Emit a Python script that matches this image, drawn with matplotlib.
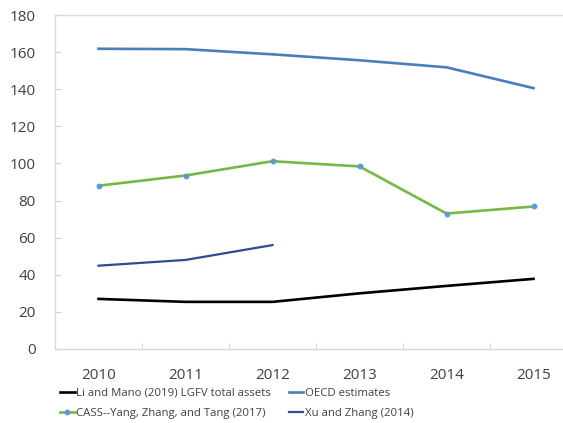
import matplotlib
matplotlib.use("Agg")
import matplotlib.pyplot as plt
import numpy as np

plt.rcParams['font.family'] = ['Open Sans', 'DejaVu Sans']

years = ["2010", "2011", "2012", "2013", "2014", "2015"]
li_mano = [27.0, 25.4, 25.4, 30.0, 34.0, 37.8]
oecd = [161.8, 161.6, 158.8, 155.6, 151.8, 140.6]
cass = [88.0, 93.5, 101.2, 98.4, 73.0, 76.8]
xu_zhang = [44.9, 48.0, 56.0]

txt = "#404040"

fig = plt.figure(figsize=(5.63, 4.23), dpi=100)
ax = fig.add_axes([55 / 563, 1 - 349 / 423, 522 / 563, 334 / 423])

x = np.arange(len(years))
l1, = ax.plot(x, li_mano, color="black", lw=1.9, label="Li and Mano (2019) LGFV total assets")
l2, = ax.plot(x, oecd, color="#4a7ebb", lw=1.9, label="OECD estimates")
l3, = ax.plot(x, cass, color="#77b843", lw=1.9, marker="o", ms=3.2,
              mfc="#5b9bd5", mec="#5b9bd5", label="CASS--Yang, Zhang, and Tang (2017)")
l4, = ax.plot(x[:len(xu_zhang)], xu_zhang, color="#2e4d8c", lw=1.6, label="Xu and Zhang (2014)")

ax.set_xlim(-0.5, len(years) - 0.5)
ax.set_ylim(0, 180)
ax.set_yticks(range(0, 181, 20))
ax.set_xticks(x)
ax.set_xticklabels(years)
ax.set_xticks(np.arange(-0.5, len(years)), minor=True)
ax.tick_params(axis="x", which="major", length=0, pad=14, labelsize=11, labelcolor=txt)
ax.tick_params(axis="x", which="minor", length=4, direction="in", color="#d0d0d0")
ax.tick_params(axis="y", length=4, direction="in", color="#d0d0d0", pad=14,
               labelsize=11, labelcolor=txt)
for s in ax.spines.values():
    s.set_color("#d9d9d9")
    s.set_linewidth(1.0)

handles = [l1, l3, l2, l4]
fig.legend(handles, [h.get_label() for h in handles],
           ncol=2, loc="upper left", bbox_to_anchor=(54 / 563, 1 - 382 / 423),
           frameon=False, fontsize=8.2, handlelength=1.3, handletextpad=0.1,
           columnspacing=1.6, labelspacing=0.8, borderpad=0, labelcolor=txt)

fig.savefig("out.png", dpi=100)
